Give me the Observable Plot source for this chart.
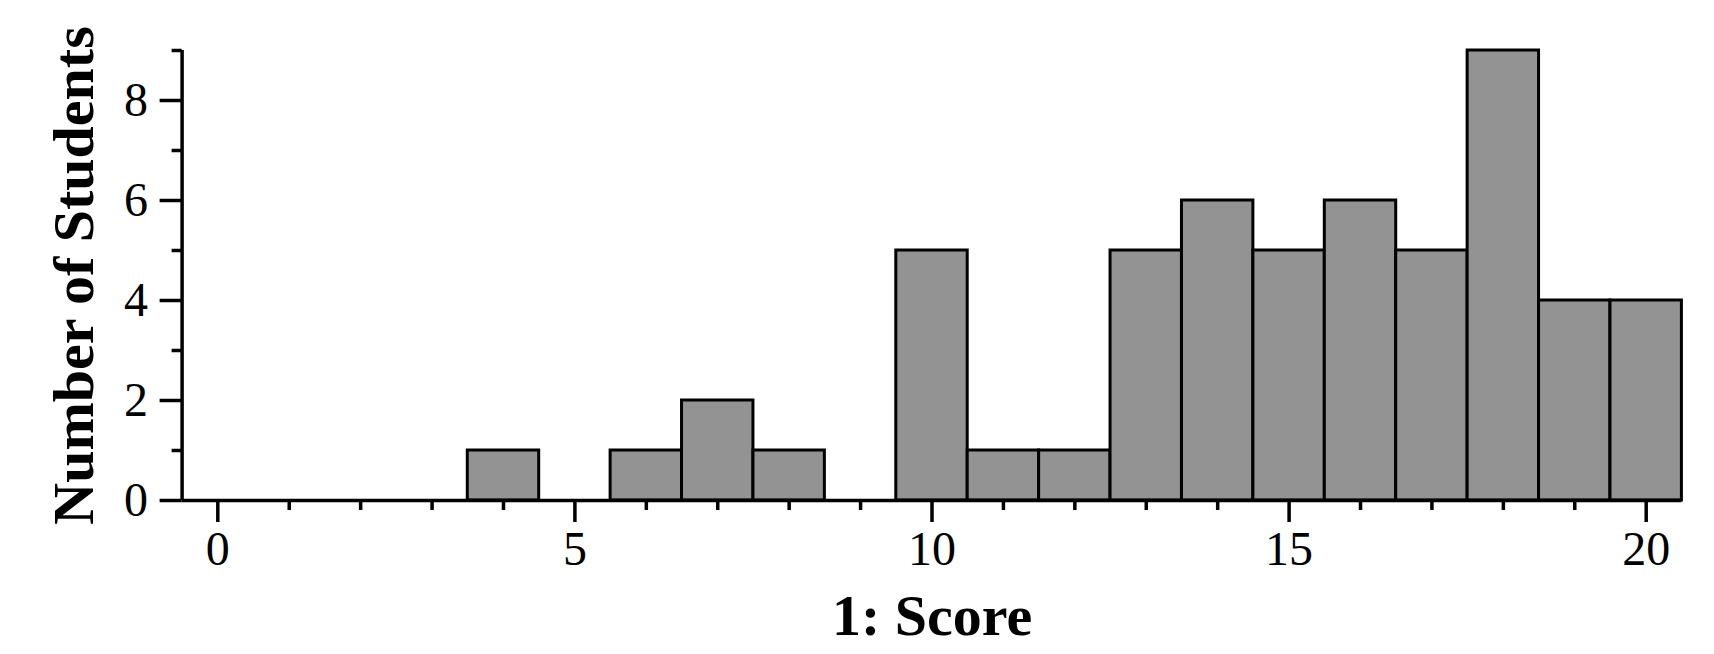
<!DOCTYPE html>
<html>
<head>
<meta charset="utf-8">
<script src="https://cdn.jsdelivr.net/npm/d3@7"></script>
<script src="https://cdn.jsdelivr.net/npm/@observablehq/plot@0.6"></script>
<style>
  html, body { margin: 0; padding: 0; background: #fff; }
  #chart { width: 1714px; height: 654px; }
</style>
</head>
<body>
<div id="chart"></div>
<script>
// Scores (bin centres) and number of students per score
const scores = [0, 1, 2, 3, 4, 5, 6, 7, 8, 9, 10, 11, 12, 13, 14, 15, 16, 17, 18, 19, 20];
const counts = [0, 0, 0, 0, 1, 0, 1, 2, 1, 0, 5, 1, 1, 5, 6, 5, 6, 5, 9, 4, 4];
const xMajorTicks = [0, 5, 10, 15, 20];
const xMinorTicks = [1, 2, 3, 4, 6, 7, 8, 9, 11, 12, 13, 14, 16, 17, 18, 19];
const yMajorTicks = [0, 2, 4, 6, 8];
const yMinorTicks = [1, 3, 5, 7, 9];
const xLabel = "1: Score";
const yLabel = "Number of Students";

const bins = scores
  .map((s, i) => ({x1: s - 0.5, x2: s + 0.5, count: counts[i]}))
  .filter(d => d.count > 0);

const fontFamily = "'Liberation Serif', 'Times New Roman', serif";

const chart = Plot.plot({
  width: 1714,
  height: 654,
  marginLeft: 181.6,
  marginRight: 32.6,
  marginTop: 50,
  marginBottom: 154,
  style: {fontFamily, background: "#fff", color: "#000"},
  x: {domain: [-0.5, 20.5]},
  y: {domain: [0, 9]},
  marks: [
    Plot.rectY(bins, {x1: "x1", x2: "x2", y: "count", fill: "#939393", stroke: "#000", strokeWidth: 3}),
    Plot.ruleX([-0.5], {y1: 0, y2: 9, stroke: "#000", strokeWidth: 3.5}),
    Plot.ruleY([0], {x1: -0.5, x2: 20.5, stroke: "#000", strokeWidth: 3.5}),
    Plot.axisX({ticks: xMajorTicks, tickSize: 22, tickPadding: 8, strokeWidth: 3.5, fontSize: 48, label: null, tickFormat: d => String(d)}),
    Plot.axisX({ticks: xMinorTicks, tickSize: 10, strokeWidth: 3.5, text: null, label: null}),
    Plot.axisY({ticks: yMajorTicks, tickSize: 22, tickPadding: 12, strokeWidth: 3.5, fontSize: 48, label: null, tickFormat: d => String(d)}),
    Plot.axisY({ticks: yMinorTicks, tickSize: 10, strokeWidth: 3.5, text: null, label: null}),
    Plot.text([xLabel], {frameAnchor: "bottom", dy: 116, lineAnchor: "middle", textAnchor: "middle", fontSize: 58, fontWeight: "bold", fill: "#000"}),
    Plot.text([yLabel], {frameAnchor: "left", dx: -108, rotate: -90, lineAnchor: "middle", textAnchor: "middle", fontSize: 58, fontWeight: "bold", fill: "#000"})
  ]
});
document.getElementById("chart").appendChild(chart);
</script>
</body>
</html>
